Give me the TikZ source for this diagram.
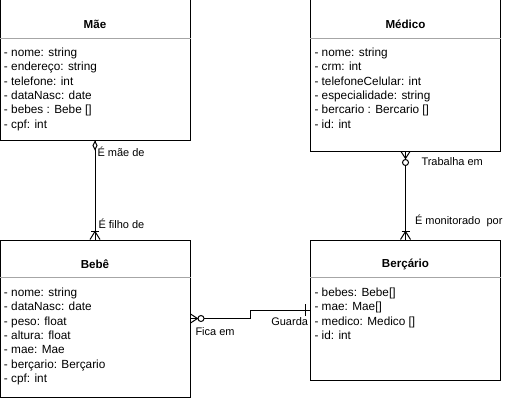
\documentclass[tikz,border=0pt]{standalone}
\usepackage{fontspec}
\setmainfont{Liberation Sans}

\begin{document}
\begin{tikzpicture}
    [x=1pt,y=-1pt,line width=1pt,
     every node/.style={font=\fontsize{11}{14.3}\selectfont,inner sep=0pt},
     cls/.style={draw,rectangle,minimum width=190pt},
     ttl/.style={font=\fontsize{11.6}{14.3}\selectfont\bfseries},
     attr/.style={anchor=north west,align=left,font=\fontsize{11.8}{14.3}\selectfont},
     lbl/.style={anchor=west},
     sep/.style={draw=gray!70,line width=0.8pt}]
    \useasboundingbox (0,0) rectangle (505,401);
    \node[cls,minimum height=140pt] (mae) at (95,70) {};
    \node[cls,minimum height=151pt] (medico) at (405.5,75.5) {};
    \node[cls,minimum height=157pt] (bebe) at (95,318.5) {};
    \node[cls,minimum height=140pt] (bercario) at (405.5,310) {};
    \node[ttl] (maeT) at ([yshift=-25pt]mae.north) {Mãe};
    \node[ttl] (medicoT) at ([yshift=-25pt]medico.north) {Médico};
    \node[ttl] (bebeT) at ([yshift=-25pt]bebe.north) {Bebê};
    \node[ttl] (bercarioT) at ([yshift=-25pt]bercario.north) {Berçário};
    \draw[sep] ([yshift=-39pt]mae.north west) -- ([yshift=-39pt]mae.north east);
    \draw[sep] ([yshift=-39pt]medico.north west) -- ([yshift=-39pt]medico.north east);
    \draw[sep] ([yshift=-38pt]bebe.north west) -- ([yshift=-38pt]bebe.north east);
    \draw[sep] ([yshift=-38pt]bercario.north west) -- ([yshift=-38pt]bercario.north east);
    \node[attr] (maeA) at ([xshift=4pt,yshift=-48pt]mae.north west)
      {- nome: string\\- endereço: string\\- telefone: int\\- dataNasc: date\\- bebes : Bebe []\\- cpf: int};
    \node[attr] (medicoA) at ([xshift=4pt,yshift=-48pt]medico.north west)
      {- nome: string\\- crm: int\\- telefoneCelular: int\\- especialidade: string\\- bercario : Bercario []\\- id: int};
    \node[attr] (bebeA) at ([xshift=4pt,yshift=-48pt]bebe.north west)
      {- nome: string\\- dataNasc: date\\- peso: float\\- altura: float\\- mae: Mae\\- berçario: Berçario\\- cpf: int};
    \node[attr] (bercarioA) at ([xshift=4pt,yshift=-48pt]bercario.north west)
      {- bebes: Bebe[]\\- mae: Mae[]\\- medico: Medico []\\- id: int};
    \draw (mae) -- (bebe);
    \draw (medico) -- (bercario);
    \draw (bebe.east) -- ++(60,0) |- (bercario.west);
    % ends
    \draw[fill=white] (mae.south) ++(0,1) -- ++(2,4) -- ++(-2,4) -- ++(-2,-4) -- cycle;
    \draw (bebe.north) ++(-5,0) -- ++(5,-8) -- ++(5,8);
    \draw (bebe.north) ++(-4,-8) -- ++(8,0);
    \draw (medico.south) ++(-4.5,0) -- ++(4.5,7) -- ++(4.5,-7);
    \draw[fill=white] (medico.south) ++(0,11) circle (3pt);
    \draw (bercario.north) ++(-5,0) -- ++(5,-8) -- ++(5,8);
    \draw (bercario.north) ++(-4,-8) -- ++(8,0);
    \draw (bebe.east) ++(0,-4.5) -- ++(7,4.5) -- ++(-7,4.5);
    \draw[fill=white] (bebe.east) ++(10.5,0) circle (3pt);
    \draw (bercario.west) ++(-5,-6) -- ++(0,12);
    \node[lbl] (maeDe) at (97,152) {É mãe de};
    \node[lbl] (filhoDe) at (98,223.5) {É filho de};
    \node[lbl] (trabalha) at (421,162) {Trabalha em};
    \node[lbl] (monitorado) at (414.5,221) {É monitorado\ \ por};
    \node[lbl] (fica) at (195,331.5) {Fica em};
    \node[lbl,anchor=east] (guarda) at (308.5,322) {Guarda};
  \end{tikzpicture}
\end{document}
